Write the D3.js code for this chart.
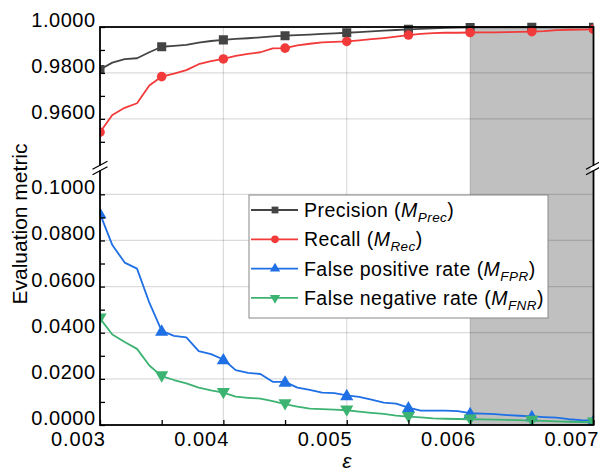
<!DOCTYPE html>
<html>
<head>
<meta charset="utf-8">
<script src="https://cdn.jsdelivr.net/npm/d3@7"></script>
<style>
  html, body { margin: 0; padding: 0; background: #fff; }
  svg { display: block; font-family: "Liberation Sans", Arial, sans-serif; }
</style>
</head>
<body>
<svg id="chart" width="599" height="472"></svg>
<script>
// ---------------- data ----------------
const epsilon = [0.0030,0.0031,0.0032,0.0033,0.0034,0.0035,0.0036,0.0037,0.0038,0.0039,
                 0.0040,0.0041,0.0042,0.0043,0.0044,0.0045,0.0046,0.0047,0.0048,0.0049,
                 0.0050,0.0051,0.0052,0.0053,0.0054,0.0055,0.0056,0.0057,0.0058,0.0059,
                 0.0060,0.0061,0.0062,0.0063,0.0064,0.0065,0.0066,0.0067,0.0068,0.0069,0.0070];
const precision = [0.9815,0.9845,0.9860,0.9864,0.9890,0.9914,0.9918,0.9922,0.9932,0.9939,
                   0.9944,0.9948,0.9951,0.9955,0.9959,0.9962,0.9965,0.9967,0.9970,0.9972,
                   0.9975,0.9978,0.9981,0.9984,0.9987,0.9990,0.9992,0.9994,0.9996,0.9997,
                   0.9998,0.9998,0.9998,0.9999,0.9999,0.9999,0.9999,0.9999,0.9999,0.9999,0.9999];
const recall = [0.9542,0.9617,0.9648,0.9668,0.9745,0.9784,0.9797,0.9812,0.9838,0.9851,
                0.9861,0.9874,0.9883,0.9890,0.9907,0.9908,0.9920,0.9927,0.9933,0.9935,
                0.9937,0.9942,0.9947,0.9952,0.9958,0.9965,0.9970,0.9973,0.9975,0.9975,
                0.9976,0.9977,0.9977,0.9978,0.9979,0.9980,0.9982,0.9986,0.9988,0.9989,0.9990];
const fpr = [0.0916,0.0780,0.0704,0.0678,0.0530,0.0408,0.0386,0.0380,0.0320,0.0307,
             0.0284,0.0238,0.0226,0.0221,0.0187,0.0187,0.0162,0.0152,0.0140,0.0138,
             0.0128,0.0122,0.0110,0.0097,0.0093,0.0075,0.0062,0.0062,0.0062,0.0060,
             0.0051,0.0049,0.0047,0.0043,0.0040,0.0037,0.0034,0.0032,0.0025,0.0021,0.0019];
const fnr = [0.0462,0.0392,0.0360,0.0330,0.0258,0.0212,0.0195,0.0180,0.0162,0.0150,
             0.0140,0.0123,0.0118,0.0114,0.0103,0.0091,0.0080,0.0071,0.0069,0.0067,
             0.0064,0.0058,0.0053,0.0048,0.0041,0.0036,0.0033,0.0029,0.0027,0.0026,
             0.0025,0.0024,0.0023,0.0022,0.0021,0.0019,0.0018,0.0016,0.0014,0.0013,0.0012];
const markerEps = [0.0030,0.0035,0.0040,0.0045,0.0050,0.0055,0.0060,0.0065,0.0070];

const xTicks = [0.003,0.004,0.005,0.006,0.007];
const xMinorTicks = [0.0035,0.0045,0.0055,0.0065];
const yTopTicks = [0.96,0.98,1.00];
const yTopMinorTicks = [0.95,0.97,0.99];
const yBotTicks = [0.00,0.02,0.04,0.06,0.08,0.10];
const yBotMinorTicks = [0.01,0.03,0.05,0.07,0.09];
const shadedRange = [0.006, 0.007];
const xDomain = [0.003, 0.007];
const yTopDomain = [0.9386, 1.0];
const yBotDomain = [0, 0.1114];

const seriesNames = ["Precision (", "Recall (", "False positive rate (", "False negative rate ("];
const seriesSubs = ["Prec", "Rec", "FPR", "FNR"];

// ---------------- layout ----------------
const L = 100, R = 593.5, T = 27, B = 425, BRK = 168;
const svg = d3.select("#chart");

const x = d3.scaleLinear().domain(xDomain).range([L, R]);
const yTop = d3.scaleLinear().domain(yTopDomain).range([BRK, T]);
const yBot = d3.scaleLinear().domain(yBotDomain).range([B, BRK]);

const series = [
  {vals: precision, y: yTop, color: "#444444", marker: "square"},
  {vals: recall,    y: yTop, color: "#f23a3a", marker: "circle"},
  {vals: fpr,       y: yBot, color: "#1f6fe5", marker: "up"},
  {vals: fnr,       y: yBot, color: "#3cb371", marker: "down"}
];

// shaded region
svg.append("rect")
  .attr("x", x(shadedRange[0])).attr("y", T)
  .attr("width", x(shadedRange[1]) - x(shadedRange[0])).attr("height", B - T)
  .attr("fill", "#c0c0c0");

// gridlines
const grid = svg.append("g").attr("stroke", "rgba(0,0,0,0.14)").attr("stroke-width", 1.2);
xTicks.slice(1, -1).forEach(v => {
  grid.append("line").attr("x1", x(v)).attr("x2", x(v)).attr("y1", T).attr("y2", B);
});
yTopTicks.filter(v => v < 1).forEach(v => {
  grid.append("line").attr("x1", L).attr("x2", R).attr("y1", yTop(v)).attr("y2", yTop(v));
});
yBotTicks.filter(v => v > 0).forEach(v => {
  grid.append("line").attr("x1", L).attr("x2", R).attr("y1", yBot(v)).attr("y2", yBot(v));
});

// clip
svg.append("defs").append("clipPath").attr("id", "plotclip")
  .append("rect").attr("x", L).attr("y", T - 6).attr("width", R - L).attr("height", B - T + 6);

const markerPath = {
  square: d3.symbol().type(d3.symbolSquare).size(82),
  circle: d3.symbol().type(d3.symbolCircle).size(72),
  up: d3.symbol().type(d3.symbolTriangle).size(75),
  down: d3.symbol().type(d3.symbolTriangle).size(75)
};
const legendMarker = {
  square: d3.symbol().type(d3.symbolSquare).size(46),
  circle: d3.symbol().type(d3.symbolCircle).size(46),
  up: d3.symbol().type(d3.symbolTriangle).size(46),
  down: d3.symbol().type(d3.symbolTriangle).size(46)
};

const plot = svg.append("g").attr("clip-path", "url(#plotclip)");
series.forEach(s => {
  const pts = epsilon.map((e, i) => ({e, v: s.vals[i]}));
  plot.append("path").datum(pts)
    .attr("fill", "none").attr("stroke", s.color).attr("stroke-width", 1.8)
    .attr("stroke-linejoin", "round")
    .attr("d", d3.line().x(d => x(d.e)).y(d => s.y(d.v)));
  const mk = pts.filter(d => markerEps.some(m => Math.abs(m - d.e) < 1e-9));
  plot.selectAll(null).data(mk).enter().append("path")
    .attr("d", markerPath[s.marker])
    .attr("fill", s.color)
    .attr("transform", d => `translate(${x(d.e)},${s.y(d.v) + (s.marker === "up" ? 1 : s.marker === "down" ? -1 : 0)}) rotate(${s.marker === "down" ? 180 : 0})`);
});

// axes
const fontSize = 20;
const yAxTop = d3.axisLeft(yTop).tickValues(yTopTicks).tickFormat(d3.format(".4f")).tickSizeInner(-5).tickSizeOuter(0).tickPadding(5);
const yAxTopMinor = d3.axisLeft(yTop).tickValues(yTopMinorTicks).tickFormat("").tickSizeInner(-5).tickSizeOuter(0);
const yAxBot = d3.axisLeft(yBot).tickValues(yBotTicks).tickFormat(d3.format(".4f")).tickSizeInner(-5).tickSizeOuter(0).tickPadding(5);
const yAxBotMinor = d3.axisLeft(yBot).tickValues(yBotMinorTicks).tickFormat("").tickSizeInner(-5).tickSizeOuter(0);
const xAx = d3.axisBottom(x).tickValues(xTicks).tickFormat(d3.format(".3f")).tickSizeInner(-5).tickSizeOuter(0).tickPadding(8);
const xAxMinor = d3.axisBottom(x).tickValues(xMinorTicks).tickFormat("").tickSizeInner(-5).tickSizeOuter(0);

function styleAxis(g) {
  g.select(".domain").remove();
  g.selectAll(".tick line").attr("stroke", "#000").attr("stroke-width", 1.3);
  g.selectAll(".tick text").attr("fill", "#000").attr("font-size", fontSize)
    .attr("font-family", "'Liberation Sans', Arial, sans-serif")
    .attr("letter-spacing", "0.5px");
}
[yAxTop, yAxTopMinor, yAxBot, yAxBotMinor].forEach(a => {
  const g = svg.append("g").attr("transform", `translate(${L},0)`).call(a);
  styleAxis(g);
  g.selectAll(".tick text").attr("dy", "0").attr("y", -0.5).attr("x", -4.5);
});
[xAx, xAxMinor].forEach(a => {
  const g = svg.append("g").attr("transform", `translate(0,${B})`).call(a);
  styleAxis(g);
  g.selectAll(".tick text").attr("dy", "0").attr("y", 21)
    .attr("text-anchor", "end").attr("x", 5.5).attr("letter-spacing", "1px");
});

// frame
const frame = svg.append("g").attr("stroke", "#000").attr("stroke-width", 1.8).attr("fill", "none");
frame.append("rect").attr("x", L).attr("y", T).attr("width", R - L).attr("height", B - T);

// axis breaks
[L, R].forEach(px => {
  svg.append("rect").attr("x", px - 3).attr("y", BRK - 2.5).attr("width", 6).attr("height", 5).attr("fill", "#fff");
  [-2.7, 2.7].forEach(off => {
    svg.append("line")
      .attr("x1", px - 7.5).attr("y1", BRK + off + 4)
      .attr("x2", px + 7.5).attr("y2", BRK + off - 4)
      .attr("stroke", "#000").attr("stroke-width", 1.2);
  });
});

// axis titles
svg.append("text").attr("x", x((xDomain[0] + xDomain[1]) / 2)).attr("y", 468)
  .attr("text-anchor", "middle").attr("font-size", 21).attr("font-style", "italic").text("ε");
svg.append("text").attr("transform", `translate(26.5,${(T + B) / 2 - 2}) rotate(-90)`)
  .attr("text-anchor", "middle").attr("font-size", 21).text("Evaluation metric");

// legend
const lg = svg.append("g");
lg.append("rect").attr("x", 249).attr("y", 195).attr("width", 299).attr("height", 123)
  .attr("fill", "#fff").attr("stroke", "#888").attr("stroke-width", 1);
series.forEach((s, i) => {
  const cy = 210 + i * 29.3;
  lg.append("line").attr("x1", 251).attr("x2", 298).attr("y1", cy).attr("y2", cy)
    .attr("stroke", s.color).attr("stroke-width", 1.8);
  lg.append("path").attr("d", legendMarker[s.marker]).attr("fill", s.color)
    .attr("transform", `translate(275,${cy}) rotate(${s.marker === "down" ? 180 : 0})`);
  const t = lg.append("text").attr("x", 304).attr("y", cy + 7).attr("font-size", 19.5)
    .attr("letter-spacing", "0.45px");
  t.append("tspan").text(seriesNames[i]);
  t.append("tspan").attr("font-style", "italic").text("M");
  t.append("tspan").attr("font-style", "italic").attr("font-size", 13.5).attr("dy", 5).text(seriesSubs[i]);
  t.append("tspan").attr("dy", -5).text(")");
});
</script>
</body>
</html>
